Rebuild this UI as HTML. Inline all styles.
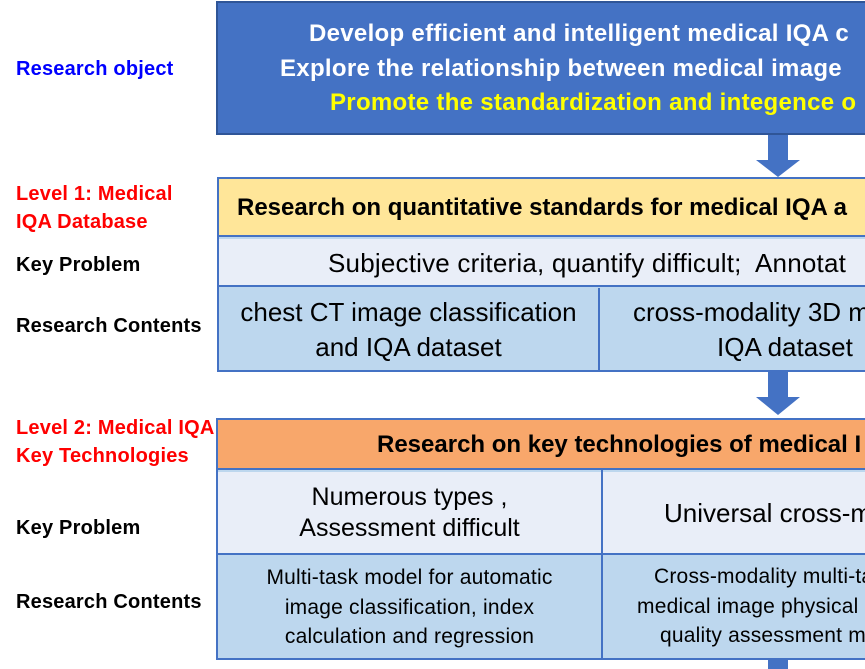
<!DOCTYPE html>
<html><head><meta charset="utf-8"><style>
html,body{margin:0;padding:0;width:865px;height:669px;overflow:hidden;background:#fff;position:relative;font-family:"Liberation Sans",sans-serif}
.a{position:absolute;white-space:nowrap}
.lab{position:absolute;font-weight:bold;font-size:20px;line-height:28px;left:16px;white-space:nowrap;letter-spacing:0.2px}
.box{position:absolute;box-sizing:border-box}
.c{position:absolute;text-align:center;display:flex;align-items:center;justify-content:center;box-sizing:border-box}
</style></head><body>
<!-- top box -->
<div class="box" style="left:216px;top:1px;width:649px;height:134px;background:#4472C4;border:2px solid #2F5597;border-right:none"></div>
<div class="a" style="left:309px;top:20px;font-size:24px;font-weight:bold;color:#fff;letter-spacing:0.3px">Develop efficient and intelligent medical IQA c</div>
<div class="a" style="left:280px;top:55px;font-size:24px;font-weight:bold;color:#fff;letter-spacing:0.3px">Explore the relationship between medical image</div>
<div class="a" style="left:330px;top:89px;font-size:24px;font-weight:bold;color:#FFFF00;letter-spacing:0.3px">Promote the standardization and integence o</div>

<div class="lab" style="top:55px;color:#0000FF">Research object</div>
<div class="lab" style="top:180px;color:#FF0000">Level 1: Medical<br>IQA Database</div>
<div class="lab" style="top:251px;color:#000">Key Problem</div>
<div class="lab" style="top:312px;color:#000">Research Contents</div>
<div class="lab" style="top:414px;color:#FF0000">Level 2: Medical IQA<br>Key Technologies</div>
<div class="lab" style="top:514px;color:#000">Key Problem</div>
<div class="lab" style="top:588px;color:#000">Research Contents</div>

<!-- arrows -->
<svg class="a" style="left:0;top:0" width="865" height="669">
<g fill="#4472C4">
<polygon points="768,135 788,135 788,160 800,160 778,177 756,160 768,160"/>
<polygon points="768,372 788,372 788,397 800,397 778,415 756,397 768,397"/>
<rect x="768" y="660" width="20" height="9"/>
</g>
</svg>

<!-- level 1 -->
<div class="box" style="left:217px;top:177px;width:648px;height:195px;border:2px solid #4472C4;border-right:none;background:#BDD7EE"></div>
<div class="box" style="left:219px;top:179px;width:646px;height:58px;background:#FFE699;border-bottom:2px solid #4472C4"></div>
<div class="a" style="left:237px;top:194px;font-size:24px;font-weight:bold">Research on quantitative standards for medical IQA a</div>
<div class="box" style="left:219px;top:239px;width:646px;height:48px;background:#E9EEF8;border-bottom:2px solid #4472C4"></div>
<div class="a" style="left:328px;top:248px;font-size:26px;letter-spacing:0.2px">Subjective criteria, quantify difficult;&nbsp; Annotat</div>
<div class="box" style="left:598px;top:288px;width:2px;height:83px;background:#4472C4"></div>
<div class="c" style="left:219px;top:289px;width:379px;height:82px;font-size:26px;line-height:35px">chest CT image classification<br>and IQA dataset</div>
<div class="a" style="left:633px;top:297px;font-size:26px">cross-modality 3D m</div>
<div class="a" style="left:717px;top:332px;font-size:26px">IQA dataset</div>

<!-- level 2 -->
<div class="box" style="left:216px;top:418px;width:649px;height:242px;border:2px solid #4472C4;border-right:none;background:#BDD7EE"></div>
<div class="box" style="left:218px;top:420px;width:647px;height:50px;background:#F8A76B;border-bottom:2px solid #4472C4"></div>
<div class="a" style="left:377px;top:431px;font-size:24px;font-weight:bold">Research on key technologies of medical I</div>
<div class="box" style="left:218px;top:472px;width:647px;height:83px;background:#E9EEF8;border-bottom:2px solid #4472C4"></div>
<div class="box" style="left:601px;top:470px;width:2px;height:190px;background:#4472C4"></div>
<div class="c" style="left:218px;top:472px;width:383px;height:81px;font-size:25px;line-height:31px">Numerous types ,<br>Assessment difficult</div>
<div class="a" style="left:664px;top:498px;font-size:26px">Universal cross-m</div>
<div class="c" style="left:218px;top:557px;width:383px;height:101px;font-size:21px;line-height:29.5px;letter-spacing:0.2px">Multi-task model for automatic<br>image classification, index<br>calculation and regression</div>
<div class="a" style="left:654px;top:565px;font-size:21px;letter-spacing:0.2px">Cross-modality multi-ta</div>
<div class="a" style="left:637px;top:595px;font-size:21px;letter-spacing:0.2px">medical image physical</div>
<div class="a" style="left:660px;top:624px;font-size:21px;letter-spacing:0.2px">quality assessment m</div>
</body></html>
